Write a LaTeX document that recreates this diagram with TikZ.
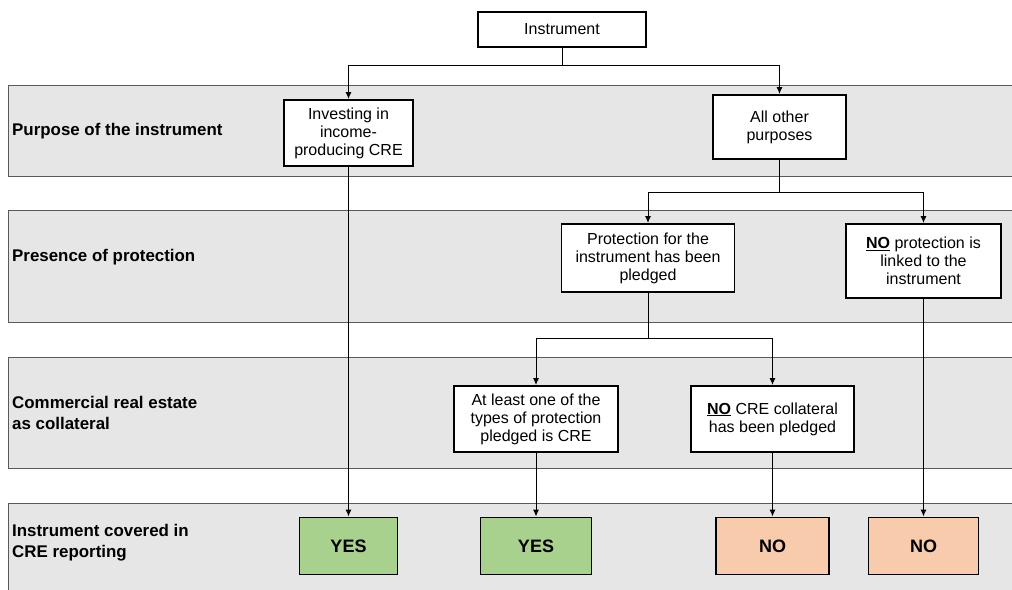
\documentclass[tikz,border=0pt]{standalone}
\usepackage{fontspec}
\setmainfont{Liberation Sans}
\usetikzlibrary{positioning,arrows.meta}

\definecolor{bandgray}{RGB}{230,230,230}
\definecolor{yesgreen}{RGB}{169,209,142}
\definecolor{nopeach}{RGB}{248,203,173}

\tikzset{
	band/.style={fill=bandgray, draw=black!65, line width=0.9pt},
	rowlabel/.style={anchor=west, align=left, font=\fontsize{16.9}{21}\selectfont\bfseries, inner sep=0pt},
	box/.style={draw, line width=1.9pt, fill=white, align=center, inner sep=2pt, font=\fontsize{16}{18}\selectfont},
	yes/.style={box, fill=yesgreen, minimum height=57, font=\fontsize{18}{20}\selectfont\bfseries},
	no/.style={box, fill=nopeach, minimum height=57, font=\fontsize{18}{20}\selectfont\bfseries},
	link/.style={line width=1pt},
	edge/.style={link, -{Latex[length=7pt,width=6pt]}}
}

\begin{document}
\begin{tikzpicture}[x=1pt, y=-1pt]
			
			\useasboundingbox (0,0) rectangle (1012,589);
			
			% bands
			\draw[band] (8,85) rectangle (1014,176);
			\draw[band] (8,210) rectangle (1014,322);
			\draw[band] (8,357) rectangle (1014,468);
			\draw[band] (8,503) rectangle (1014,592);
			
			\node[rowlabel] (lpurpose) at (12,131) {Purpose of the instrument};
			\node[rowlabel] (lprotect) at (12,257) {Presence of protection};
			\node[rowlabel] (lcollat) at (12,413) {Commercial real estate\\as collateral};
			\node[rowlabel] (lcovered) at (12,543) {Instrument covered in\\CRE reporting};
			
			% decision boxes
			\node[box, minimum width=168, minimum height=35] (inst) at (562,29.5) {Instrument};
			\node[box, minimum width=129, minimum height=66] (invest) at (348.5,133) {Investing in\\income-\\producing CRE};
			\node[box, minimum width=133, minimum height=64] (other) at (779.5,127) {All other\\purposes};
			\node[box, minimum width=173, minimum height=68] (pledged) at (648,258) {Protection for the\\instrument has been\\pledged};
			\node[box, minimum width=155, minimum height=74] (noprot) at (923.5,261) {\underline{\textbf{NO}} protection is\\linked to the\\instrument};
			\node[box, minimum width=164, minimum height=66] (atleast) at (536,419) {At least one of the\\types of protection\\pledged is CRE};
			\node[box, minimum width=163, minimum height=66] (nocre) at (772.5,419) {\underline{\textbf{NO}} CRE collateral\\has been pledged};
			
			% outcomes
			\node[yes, minimum width=98] (yes1) at (348.5,546) {YES};
			\node[yes, minimum width=111] (yes2) at (536,546) {YES};
			\node[no, minimum width=113] (no1) at (772.5,546) {NO};
			\node[no, minimum width=110] (no2) at (923.5,546) {NO};
			
			\coordinate (j1) at (562,65);
			\coordinate (j2) at (779.5,192);
			\coordinate (j3) at (648,338);
			
			\draw[link] (inst) -- (j1);
			\draw[edge] (j1) -| (invest);
			\draw[edge] (j1) -| (other);
			\draw[link] (other) -- (j2);
			\draw[edge] (j2) -| (pledged);
			\draw[edge] (j2) -| (noprot);
			\draw[link] (pledged) -- (j3);
			\draw[edge] (j3) -| (atleast);
			\draw[edge] (j3) -| (nocre);
			\draw[edge] (invest) -- (yes1);
			\draw[edge] (atleast) -- (yes2);
			\draw[edge] (nocre) -- (no1);
			\draw[edge] (noprot) -- (no2);
			
		\end{tikzpicture}
\end{document}
